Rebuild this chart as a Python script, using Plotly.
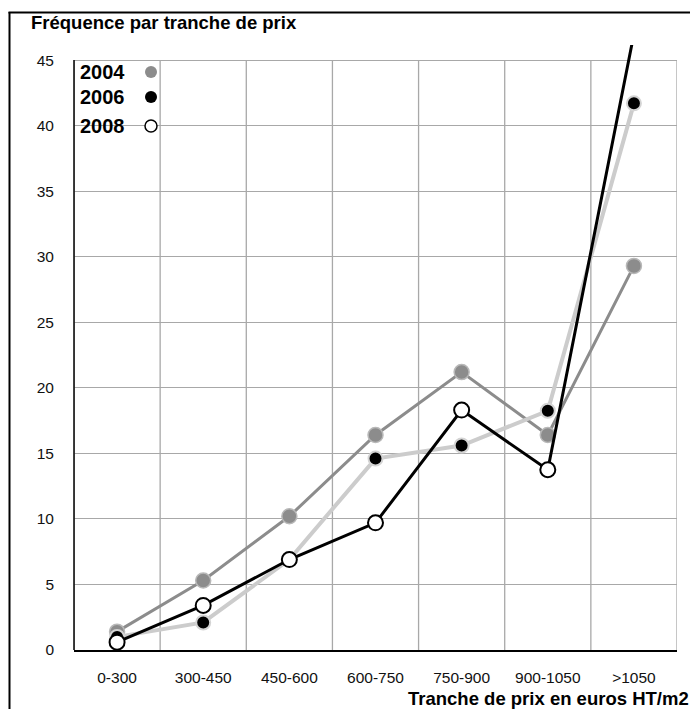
import plotly.graph_objects as go

categories = ["0-300", "300-450", "450-600", "600-750", "750-900", "900-1050", ">1050"]
years = ["2004", "2006", "2008"]
values_2004 = [1.4, 5.3, 10.2, 16.4, 21.2, 16.4, 29.3]
values_2006 = [1.0, 2.1, 6.9, 14.6, 15.6, 18.25, 41.7]
values_2008 = [0.6, 3.4, 6.9, 9.7, 18.3, 13.75, 47.0]
y_ticks = [0, 5, 10, 15, 20, 25, 30, 35, 40, 45]

FONT = "Liberation Sans, Arial, Helvetica, sans-serif"

styles = {
    "2004": dict(line=dict(color="#8c8c8c", width=3),
                 marker=dict(color="#8c8c8c", size=15, line=dict(color="#b8b8b8", width=1.5))),
    "2006": dict(line=dict(color="#cccccc", width=4),
                 marker=dict(color="#000000", size=14, line=dict(color="#d4d4d4", width=2))),
    "2008": dict(line=dict(color="#000000", width=3),
                 marker=dict(color="#ffffff", size=15, line=dict(color="#000000", width=2))),
}
series = {"2004": values_2004, "2006": values_2006, "2008": values_2008}

fig = go.Figure()
for yr in years:
    st = styles[yr]
    fig.add_trace(go.Scatter(
        x=list(range(len(categories))), y=series[yr], mode="lines+markers",
        name=yr, line=st["line"], marker=st["marker"], showlegend=False,
    ))

# page offset (browser body margin)
OFF = 8
# figure geometry (pixels)
W, H = 698 - OFF, 709 - OFF
L, R, T, B = 66, 21, 37, 59
pw, ph = W - L - R, H - T - B
ymax = 46.15

def px_x(p):
    # p: page pixel
    return (p - OFF - L) / pw

def px_y(p):
    return (H - B - (p - OFF)) / ph

shapes = []
# vertical gridlines at category boundaries (up to 45)
for i in range(len(categories) + 1):
    shapes.append(dict(type="line", xref="x", yref="y", x0=i - 0.5, x1=i - 0.5,
                       y0=0, y1=45, line=dict(color="#a8a8a8", width=1.3), layer="below"))
# left axis line
shapes.append(dict(type="line", xref="paper", yref="y", x0=0, x1=0, y0=0, y1=45,
                   line=dict(color="#000000", width=1.5)))
# outer frame (left and top)
shapes.append(dict(type="line", xref="paper", yref="paper", x0=px_x(9.5), x1=px_x(9.5),
                   y0=px_y(12), y1=px_y(760), line=dict(color="#000000", width=2)))
shapes.append(dict(type="line", xref="paper", yref="paper", x0=px_x(8.5), x1=px_x(760),
                   y0=px_y(12.5), y1=px_y(12.5), line=dict(color="#000000", width=2)))

annotations = []
# legend (text then symbol)
leg_y = [72, 97, 126]
for yr, py in zip(years, leg_y):
    annotations.append(dict(text="<b>%s</b>" % yr, xref="paper", yref="paper",
                            x=px_x(78), y=px_y(py), xanchor="left", yanchor="middle",
                            showarrow=False, font=dict(family=FONT, size=20, color="#000")))
    st = styles[yr]["marker"]
    r = 6
    shapes.append(dict(type="circle", xref="paper", yref="paper",
                       x0=px_x(151 - r), x1=px_x(151 + r), y0=px_y(py + r), y1=px_y(py - r),
                       fillcolor=st["color"],
                       line=dict(color="#000000" if yr == "2008" else st["color"],
                                 width=1.5 if yr == "2008" else 0)))

annotations.append(dict(text="<b>Fréquence par tranche de prix</b>", xref="paper", yref="paper",
                        x=px_x(29), y=px_y(22), xanchor="left", yanchor="middle", showarrow=False,
                        font=dict(family=FONT, size=18.5, color="#000")))
annotations.append(dict(text="<b>Tranche de prix en euros HT/m2</b>", xref="paper", yref="paper",
                        x=px_x(691), y=px_y(698), xanchor="right", yanchor="middle", showarrow=False,
                        font=dict(family=FONT, size=18.5, color="#000")))

fig.update_layout(
    width=W, height=H,
    margin=dict(l=L, r=R, t=T, b=B),
    paper_bgcolor="white", plot_bgcolor="white",
    showlegend=False,
    shapes=shapes, annotations=annotations,
    font=dict(family=FONT, size=15.5, color="#111"),
    xaxis=dict(tickmode="array", tickvals=list(range(len(categories))), ticktext=categories,
               range=[-0.5, len(categories) - 0.5], showgrid=False, zeroline=False,
               showline=True, linecolor="#000", linewidth=1.5, ticks="",
               ticklabelstandoff=13, tickfont=dict(size=15.5, color="#111")),
    yaxis=dict(range=[0, ymax], tickvals=y_ticks, showgrid=True, gridcolor="#a8a8a8", gridwidth=1.3,
               zeroline=False, showline=False, ticks="", ticklabelstandoff=19,
               tickfont=dict(size=15.5, color="#111")),
)

fig.write_html("out.html")
